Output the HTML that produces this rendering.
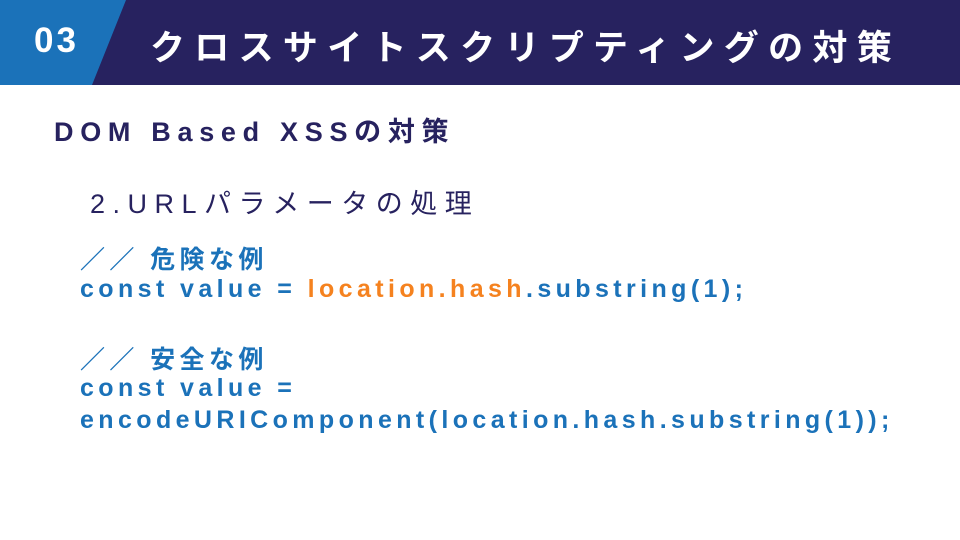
<!DOCTYPE html>
<html><head><meta charset="utf-8"><style>
body{margin:0;width:960px;height:540px;background:#fff;position:relative;overflow:hidden;font-family:"Liberation Sans","Noto Sans CJK JP",sans-serif}
.t{position:absolute;white-space:nowrap;font-weight:bold}
.c{color:#1b72b9;font-size:25px;letter-spacing:4.4px}
.o{color:#f5821f}
</style></head><body>
<svg width="960" height="85" style="position:absolute;left:0;top:0">
<rect width="960" height="85" fill="#27225f"/>
<polygon points="0,0 126,0 92,85 0,85" fill="#1b72b9"/>
</svg>
<div class="t" style="left:34px;top:21px;font-size:35px;color:#fff;letter-spacing:3px">03</div>
<div class="t" style="left:150px;top:20px;font-size:35px;color:#fff;letter-spacing:9.3px">クロスサイトスクリプティングの対策</div>
<div class="t" style="left:54px;top:110px;font-size:27px;color:#27225f;letter-spacing:6.7px">DOM Based XSSの対策</div>
<div class="t" style="left:90px;top:182px;font-size:27px;color:#27225f;font-weight:normal;letter-spacing:7.5px">2.URLパラメータの処理</div>
<div class="t c" style="left:80px;top:240px">／／ 危険な例</div>
<div class="t c" style="left:80px;top:275px">const value = <span class="o">location.hash</span>.substring(1);</div>
<div class="t c" style="left:80px;top:340px">／／ 安全な例</div>
<div class="t c" style="left:80px;top:374px">const value =</div>
<div class="t c" style="left:80px;top:406px">encodeURIComponent(location.hash.substring(1));</div>
</body></html>
